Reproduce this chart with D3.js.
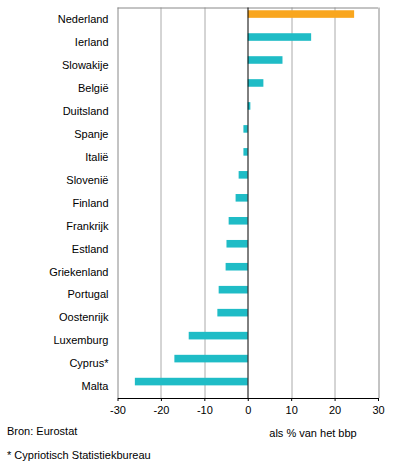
<!DOCTYPE html>
<html lang="nl">
<head>
<meta charset="UTF-8">
<title>Overschot lopende rekening</title>
<script src="https://cdn.jsdelivr.net/npm/d3@7"></script>
<style>
  body { margin: 0; background: #fff; }
  text { font-family: "Liberation Sans", Arial, sans-serif; font-size: 11px; fill: #000; }
</style>
</head>
<body>
<div id="chart"></div>
<script>
// data
const countries = ["Nederland", "Ierland", "Slowakije", "België", "Duitsland", "Spanje", "Italië",
  "Slovenië", "Finland", "Frankrijk", "Estland", "Griekenland", "Portugal", "Oostenrijk",
  "Luxemburg", "Cyprus*", "Malta"];
const values = [24.5, 14.6, 8.0, 3.6, 0.6, -1.0, -1.0, -2.1, -2.8, -4.4, -4.9, -5.1, -6.7, -7.0,
  -13.6, -16.9, -26.0];
const xTicks = [-30, -20, -10, 0, 10, 20, 30];
const highlight = "Nederland";

const W = 396, H = 468;
const margin = { top: 7.5, right: 18, bottom: 70, left: 117.5 };
const innerW = W - margin.left - margin.right;
const innerH = H - margin.top - margin.bottom;

const svg = d3.select("#chart").append("svg")
  .attr("width", W)
  .attr("height", H);

const g = svg.append("g")
  .attr("transform", `translate(${margin.left},${margin.top})`);

const x = d3.scaleLinear().domain([-30, 30]).range([0, innerW]);
const y = d3.scaleBand().domain(countries).range([0, innerH]);

// gridlines
g.selectAll(".grid")
  .data(xTicks.filter(d => d !== 0))
  .join("line")
  .attr("x1", d => Math.round(x(d)) + 0.5)
  .attr("x2", d => Math.round(x(d)) + 0.5)
  .attr("y1", 0)
  .attr("y2", innerH)
  .attr("stroke", d => (d === -30 || d === 30) ? "#888" : "#aaa")
  .attr("stroke-width", 1);

// top border
g.append("line")
  .attr("x1", 0).attr("x2", innerW)
  .attr("y1", 0.5).attr("y2", 0.5)
  .attr("stroke", "#888");

// bars
const bw = y.bandwidth();
g.selectAll(".bar")
  .data(countries)
  .join("rect")
  .attr("x", (d, i) => x(Math.min(0, values[i])))
  .attr("width", (d, i) => Math.abs(x(values[i]) - x(0)))
  .attr("y", d => y(d) + bw * 0.12)
  .attr("height", bw * 0.33)
  .attr("fill", d => d === highlight ? "#f9a61e" : "#1fbcc6");

// zero line
g.append("line")
  .attr("x1", Math.round(x(0)) + 0.5).attr("x2", Math.round(x(0)) + 0.5)
  .attr("y1", 0).attr("y2", innerH)
  .attr("stroke", "#000");

// category labels
g.selectAll(".lab")
  .data(countries)
  .join("text")
  .attr("x", -9)
  .attr("y", d => y(d) + bw / 2)
  .attr("dy", "0.35em")
  .attr("text-anchor", "end")
  .text(d => d);

// x axis (plain hyphen for negatives, like the original)
const xAxis = g.append("g")
  .attr("transform", `translate(0,${innerH})`)
  .call(d3.axisBottom(x).tickValues(xTicks).tickSize(3).tickPadding(5).tickFormat(d => String(d)));
xAxis.select(".domain").attr("stroke", "#000").attr("d", `M0.5,0.5H${innerW + 0.5}`);
xAxis.selectAll(".tick line").attr("stroke", "#000");
xAxis.selectAll(".tick text")
  .style("font-family", "'Liberation Sans', Arial, sans-serif")
  .style("font-size", "11px")
  .attr("fill", "#000");

// footer texts
svg.append("text").attr("x", 7).attr("y", 435).text("Bron: Eurostat");
svg.append("text").attr("x", 313).attr("y", 437).attr("text-anchor", "middle").text("als % van het bbp");
svg.append("text").attr("x", 7).attr("y", 459).text("* Cypriotisch Statistiekbureau");
</script>
</body>
</html>
